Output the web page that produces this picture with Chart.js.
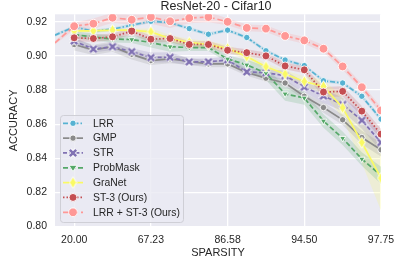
<!DOCTYPE html>
<html><head><meta charset="utf-8">
<script src="https://cdn.jsdelivr.net/npm/chart.js@4.4.1/dist/chart.umd.min.js"></script>
<style>html,body{margin:0;padding:0;background:#fff}canvas{display:block}</style>
</head><body>
<canvas id="c" width="407" height="271"></canvas>
<script>
// ---- data ----
const positions = [-1, 0, 1, 2, 3, 4, 5, 6, 7, 8, 9, 10, 11, 12, 13, 14, 15, 16];
const tickPositions = [0, 4, 8, 12, 16];
const sparsityLabels = ['20.00', '67.23', '86.58', '94.50', '97.75'];
const accuracyTicks = [0.80, 0.82, 0.84, 0.86, 0.88, 0.90, 0.92];

const lrr      = [0.9123, 0.9171, 0.9146, 0.9158, 0.9181, 0.9204, 0.9196, 0.9161, 0.9128, 0.9152, 0.9109, 0.9031, 0.8977, 0.8944, 0.8855, 0.8842, 0.8764, 0.8630];
const gmp      = [null, 0.9068, 0.9036, 0.9055, 0.9010, 0.8973, 0.8983, 0.8968, 0.8954, 0.8954, 0.8904, 0.8870, 0.8842, 0.8764, 0.8698, 0.8626, 0.8522, 0.8450];
const str      = [null, 0.9088, 0.9041, 0.9055, 0.9026, 0.8991, 0.8993, 0.8966, 0.8966, 0.8977, 0.8907, 0.8902, 0.8885, 0.8818, 0.8766, 0.8716, 0.8623, 0.8493];
const probMask = [null, 0.9126, 0.9112, 0.9100, 0.9097, 0.9080, 0.9055, 0.9050, 0.9050, 0.8983, 0.8948, 0.8900, 0.8778, 0.8754, 0.8619, 0.8518, 0.8396, 0.8300];
const graNet   = [null, 0.9148, 0.9148, 0.9152, 0.9152, 0.9142, 0.9103, 0.9080, 0.9068, 0.9045, 0.8997, 0.8937, 0.8895, 0.8851, 0.8822, 0.8697, 0.8493, 0.8284];
const st3      = [null, 0.9107, 0.9103, 0.9113, 0.9146, 0.9099, 0.9103, 0.9068, 0.9068, 0.9034, 0.9020, 0.9001, 0.8942, 0.8919, 0.8789, 0.8793, 0.8677, 0.8542];
const lrrSt3   = [0.9078, 0.9175, 0.9190, 0.9225, 0.9213, 0.9229, 0.9204, 0.9223, 0.9229, 0.9201, 0.9165, 0.9161, 0.9118, 0.9092, 0.9043, 0.8939, 0.8817, 0.8681];

// half-width of the shaded bands
const lrrSpread      = [0.001, 0.001, 0.001, 0.001, 0.001, 0.001, 0.001, 0.001, 0.001, 0.001, 0.001, 0.001, 0.001, 0.001, 0.001, 0.001, 0.0012, 0.0015];
const gmpSpread      = [0, 0.0035, 0.003, 0.003, 0.003, 0.0025, 0.0025, 0.002, 0.002, 0.002, 0.002, 0.002, 0.002, 0.002, 0.003, 0.003, 0.004, 0.004];
const strSpread      = [0, 0.002, 0.002, 0.002, 0.002, 0.003, 0.003, 0.002, 0.002, 0.002, 0.002, 0.002, 0.003, 0.003, 0.004, 0.004, 0.005, 0.005];
const probMaskSpread = [0, 0.002, 0.002, 0.002, 0.002, 0.003, 0.003, 0.002, 0.002, 0.002, 0.003, 0.004, 0.004, 0.004, 0.004, 0.004, 0.004, 0.005];
const graNetSpread   = [0, 0.001, 0.001, 0.001, 0.001, 0.002, 0.002, 0.002, 0.002, 0.002, 0.002, 0.002, 0.002, 0.003, 0.004, 0.006, 0.012, 0.019];
const st3Spread      = [0, 0.002, 0.002, 0.002, 0.002, 0.002, 0.002, 0.002, 0.002, 0.002, 0.002, 0.002, 0.002, 0.002, 0.003, 0.003, 0.003, 0.003];
const lrrSt3Spread   = [0.001, 0.002, 0.003, 0.003, 0.003, 0.004, 0.004, 0.003, 0.003, 0.002, 0.002, 0.002, 0.002, 0.002, 0.002, 0.002, 0.002, 0.002];

// ---- styling ----
const FONT = "'Liberation Sans', Arial, sans-serif";
const TEXT = '#262626';

function makeX(color) {
  const c = document.createElement('canvas'); c.width = 10; c.height = 10;
  const g = c.getContext('2d'); g.lineCap = 'butt';
  [[4.4, '#ffffff'], [2.6, color]].forEach(([w, col]) => {
    g.strokeStyle = col; g.lineWidth = w; g.beginPath();
    g.moveTo(1.8, 1.8); g.lineTo(8.2, 8.2); g.moveTo(8.2, 1.8); g.lineTo(1.8, 8.2); g.stroke();
  });
  return c;
}
function makeThinDiamond(color) {
  const c = document.createElement('canvas'); c.width = 9; c.height = 13;
  const g = c.getContext('2d');
  g.beginPath(); g.moveTo(4.5, 0.7); g.lineTo(8, 6.5); g.lineTo(4.5, 12.3); g.lineTo(1, 6.5); g.closePath();
  g.fillStyle = color; g.fill(); g.strokeStyle = '#ffffff'; g.lineWidth = 0.9; g.stroke();
  return c;
}

const series = [
  { label: 'LRR', data: lrr, spread: lrrSpread, color: 'rgb(86,178,210)', dash: [5, 2, 1.5, 2], style: 'circle', radius: 3.2 },
  { label: 'GMP', data: gmp, spread: gmpSpread, color: 'rgb(138,138,138)', dash: [], style: 'circle', radius: 3.2 },
  { label: 'STR', data: str, spread: strSpread, color: 'rgb(129,114,179)', dash: [4, 2.2], style: makeX('rgb(129,114,179)'), radius: 4 },
  { label: 'ProbMask', data: probMask, spread: probMaskSpread, color: 'rgb(85,168,104)', dash: [5, 2.5], style: 'triangle', rotation: 180, radius: 3.6 },
  { label: 'GraNet', data: graNet, spread: graNetSpread, color: 'rgb(250,250,100)', dash: [], style: makeThinDiamond('rgb(250,250,100)'), radius: 4 },
  { label: 'ST-3 (Ours)', data: st3, spread: st3Spread, color: 'rgb(196,78,82)', dash: [1.5, 2], style: 'circle', radius: 4 },
  { label: 'LRR + ST-3 (Ours)', data: lrrSt3, spread: lrrSt3Spread, color: 'rgb(255,152,150)', dash: [6, 3], style: 'circle', radius: 4.4 }
];

function alpha(rgb, a) { return rgb.replace('rgb(', 'rgba(').replace(')', ',' + a + ')'); }
function pts(arr) { return arr.map((v, i) => ({ x: positions[i], y: v })); }

const datasets = [];
series.forEach((s, k) => {
  const up = s.data.map((v, i) => v == null ? null : v + s.spread[i]);
  const lo = s.data.map((v, i) => v == null ? null : v - s.spread[i]);
  const base = datasets.length;
  datasets.push({ label: s.label + ' hi', data: pts(up), borderWidth: 0, pointRadius: 0, fill: false, order: 100 + k });
  datasets.push({ label: s.label + ' lo', data: pts(lo), borderWidth: 0, pointRadius: 0, fill: base, backgroundColor: alpha(s.color, 0.2), order: 100 + k });
});
series.forEach((s, k) => {
  datasets.push({
    label: s.label, data: pts(s.data), borderColor: s.color, backgroundColor: s.color,
    borderWidth: 1.7, borderDash: s.dash, fill: false, tension: 0,
    pointStyle: s.style, pointRotation: s.rotation || 0,
    pointRadius: s.data.map((v, i) => positions[i] < 0 ? 0 : s.radius),
    pointBackgroundColor: s.color, pointBorderColor: '#ffffff', pointBorderWidth: 0.9,
    order: 10 - k
  });
});

function drawMarker(ctx, s, x, y) {
  ctx.save(); ctx.setLineDash([]);
  if (typeof s.style !== 'string') {
    ctx.drawImage(s.style, x - s.style.width / 2, y - s.style.height / 2);
  } else if (s.style === 'triangle') {
    const r = s.radius + 0.5;
    ctx.beginPath(); ctx.moveTo(x - r, y - r * 0.6); ctx.lineTo(x + r, y - r * 0.6); ctx.lineTo(x, y + r * 0.9); ctx.closePath();
    ctx.fillStyle = s.color; ctx.fill(); ctx.strokeStyle = '#fff'; ctx.lineWidth = 0.9; ctx.stroke();
  } else {
    ctx.beginPath(); ctx.arc(x, y, s.radius, 0, Math.PI * 2);
    ctx.fillStyle = s.color; ctx.fill(); ctx.strokeStyle = '#fff'; ctx.lineWidth = 0.9; ctx.stroke();
  }
  ctx.restore();
}

const decor = {
  id: 'decor',
  beforeDraw(chart) {
    const { ctx, chartArea: a } = chart;
    ctx.save();
    ctx.fillStyle = '#ffffff'; ctx.fillRect(0, 0, chart.width, chart.height);
    ctx.fillStyle = '#eaeaf2'; ctx.fillRect(a.left, a.top, a.right - a.left, a.bottom - a.top);
    ctx.restore();
  },
  afterDraw(chart) {
    const ctx = chart.ctx;
    ctx.save();
    // title
    ctx.fillStyle = TEXT; ctx.font = '12.5px ' + FONT; ctx.textAlign = 'center'; ctx.textBaseline = 'middle';
    ctx.fillText('ResNet-20 - Cifar10', 216, 6.5);
    // legend box
    const bx = 60.5, by = 115.5, bw = 123, bh = 107, r = 3;
    ctx.beginPath();
    ctx.moveTo(bx + r, by); ctx.lineTo(bx + bw - r, by); ctx.quadraticCurveTo(bx + bw, by, bx + bw, by + r);
    ctx.lineTo(bx + bw, by + bh - r); ctx.quadraticCurveTo(bx + bw, by + bh, bx + bw - r, by + bh);
    ctx.lineTo(bx + r, by + bh); ctx.quadraticCurveTo(bx, by + bh, bx, by + bh - r);
    ctx.lineTo(bx, by + r); ctx.quadraticCurveTo(bx, by, bx + r, by); ctx.closePath();
    ctx.fillStyle = 'rgba(234,234,242,0.8)'; ctx.fill();
    ctx.strokeStyle = '#cfcfd6'; ctx.lineWidth = 1; ctx.stroke();
    series.forEach((s, k) => {
      const y = 123.3 + k * 14.83;
      ctx.strokeStyle = s.color; ctx.lineWidth = 1.7; ctx.setLineDash(s.dash);
      ctx.beginPath(); ctx.moveTo(63, y); ctx.lineTo(83, y); ctx.stroke();
      drawMarker(ctx, s, 73, y);
      ctx.setLineDash([]);
      ctx.fillStyle = TEXT; ctx.font = '10.4px ' + FONT; ctx.textAlign = 'left'; ctx.textBaseline = 'middle';
      ctx.fillText(s.label, 93, y + 0.5);
    });
    ctx.restore();
  }
};

new Chart(document.getElementById('c'), {
  type: 'line',
  data: { datasets },
  options: {
    responsive: false, animation: false, devicePixelRatio: 1,
    layout: { padding: { top: 12, right: 26, left: 0, bottom: 0 } },
    plugins: { legend: { display: false }, tooltip: { enabled: false }, title: { display: false },
      filler: { propagate: false, drawTime: 'beforeDatasetsDraw' } },
    scales: {
      x: {
        type: 'linear', min: -1, max: 16,
        afterBuildTicks: s => { s.ticks = tickPositions.map(v => ({ value: v })); },
        afterFit: s => { s.height = 44.5; },
        ticks: { callback: v => sparsityLabels[tickPositions.indexOf(v)], autoSkip: false, maxRotation: 0,
          font: { family: FONT, size: 10.5 }, color: TEXT, padding: 7 },
        grid: { color: '#ffffff', lineWidth: 1.3, drawTicks: false },
        border: { display: false },
        title: { display: true, text: 'SPARSITY', font: { family: FONT, size: 11 }, color: TEXT, padding: { top: 0, bottom: 11 } }
      },
      y: {
        min: 0.80, max: 0.9245,
        afterBuildTicks: s => { s.ticks = accuracyTicks.map(v => ({ value: v })); },
        afterFit: s => { s.width = 55; },
        ticks: { callback: v => v.toFixed(2), font: { family: FONT, size: 10.5 }, color: TEXT, padding: 8 },
        grid: { color: '#ffffff', lineWidth: 1.3, drawTicks: false },
        border: { display: false },
        title: { display: true, text: 'ACCURACY', font: { family: FONT, size: 11 }, color: TEXT, padding: { top: 7.4, bottom: 0 } }
      }
    }
  },
  plugins: [decor]
});
</script>
</body></html>
